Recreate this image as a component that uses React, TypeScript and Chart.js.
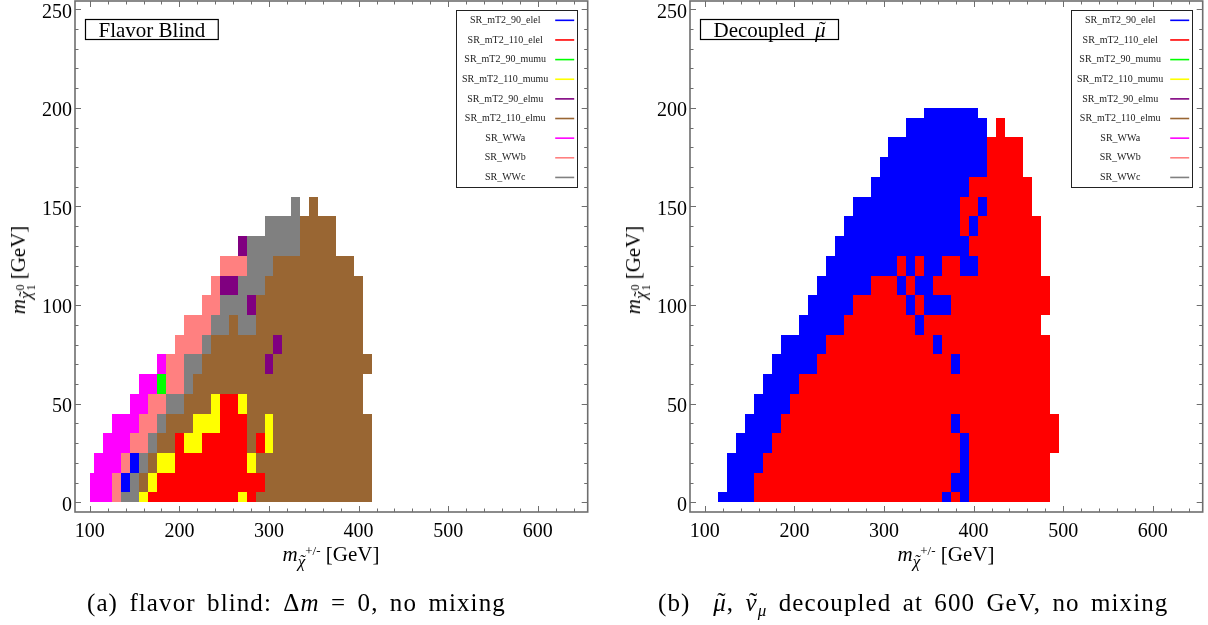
import React, { useEffect, useRef } from "react";
import { Chart, registerables } from "chart.js";

Chart.register(...registerables);

const SERIF = "'Liberation Serif', 'Times New Roman', Times, serif";

// ---------------- data ----------------
const SIGNAL_REGIONS = [
  "SR_mT2_90_elel",
  "SR_mT2_110_elel",
  "SR_mT2_90_mumu",
  "SR_mT2_110_mumu",
  "SR_mT2_90_elmu",
  "SR_mT2_110_elmu",
  "SR_WWa",
  "SR_WWb",
  "SR_WWc",
];
const SR_COLORS = ["#0000ff", "#ff0000", "#00ff00", "#ffff00", "#800080", "#996633", "#ff00ff", "#ff8080", "#808080"];

const X_TICKS = [100, 200, 300, 400, 500, 600];
const Y_TICKS = [0, 50, 100, 150, 200, 250];
const X_MINOR_STEP = 20;
const Y_MINOR_STEP = 10;
const X_RANGE = [83.5, 655.7];
const Y_RANGE = [-4.92, 254.2];

// signal-region indices
const EE90 = 0, EE110 = 1, MM90 = 2, MM110 = 3, EM90 = 4, EM110 = 5, WWA = 6, WWB = 7, WWC = 8;

// scan grid (GeV)
const SCAN_STEP = 10;
const CHARGINO_MIN = 100;
const NEUTRALINO_MIN = 0;
const NEUTRALINO_MAX = 200;

// runs of scan points: [m_chi10, m_chi+- from, m_chi+- to, best SR]
const FLAVOR_BLIND_RUNS = [
  [0, 100, 120, WWA], [0, 130, 130, WWB], [0, 140, 150, WWC], [0, 160, 160, MM110], [0, 170, 260, EE110], [0, 270, 270, MM110], [0, 280, 280, EE110], [0, 290, 410, EM110],
  [10, 100, 120, WWA], [10, 130, 130, WWB], [10, 140, 140, EE90], [10, 150, 150, WWC], [10, 160, 160, EM110], [10, 170, 170, MM110], [10, 180, 290, EE110], [10, 300, 410, EM110],
  [20, 110, 130, WWA], [20, 140, 140, WWB], [20, 150, 150, EE90], [20, 160, 160, WWC], [20, 170, 170, EM110], [20, 180, 190, MM110], [20, 200, 270, EE110], [20, 280, 280, MM110], [20, 290, 410, EM110],
  [30, 120, 140, WWA], [30, 150, 160, WWB], [30, 170, 170, WWC], [30, 180, 190, EM110], [30, 200, 200, EE110], [30, 210, 220, MM110], [30, 230, 270, EE110], [30, 280, 280, EM110], [30, 290, 290, EE110], [30, 300, 300, MM110], [30, 310, 410, EM110],
  [40, 130, 150, WWA], [40, 160, 170, WWB], [40, 180, 180, WWC], [40, 190, 210, EM110], [40, 220, 240, MM110], [40, 250, 270, EE110], [40, 280, 290, EM110], [40, 300, 300, MM110], [40, 310, 410, EM110],
  [50, 150, 160, WWA], [50, 170, 180, WWB], [50, 190, 200, WWC], [50, 210, 230, EM110], [50, 240, 240, MM110], [50, 250, 260, EE110], [50, 270, 270, MM110], [50, 280, 400, EM110],
  [60, 160, 170, WWA], [60, 180, 180, MM90], [60, 190, 200, WWB], [60, 210, 210, WWC], [60, 220, 400, EM110],
  [70, 180, 180, WWA], [70, 190, 200, WWB], [70, 210, 220, WWC], [70, 230, 290, EM110], [70, 300, 300, EM90], [70, 310, 410, EM110],
  [80, 200, 220, WWB], [80, 230, 230, WWC], [80, 240, 300, EM110], [80, 310, 310, EM90], [80, 320, 400, EM110],
  [90, 210, 230, WWB], [90, 240, 250, WWC], [90, 260, 260, EM110], [90, 270, 280, WWC], [90, 290, 400, EM110],
  [100, 230, 240, WWB], [100, 250, 270, WWC], [100, 280, 280, EM90], [100, 290, 400, EM110],
  [110, 240, 240, WWB], [110, 250, 260, EM90], [110, 270, 290, WWC], [110, 300, 400, EM110],
  [120, 250, 270, WWB], [120, 280, 300, WWC], [120, 310, 390, EM110],
  [130, 270, 270, EM90], [130, 280, 330, WWC], [130, 340, 370, EM110],
  [140, 300, 330, WWC], [140, 340, 370, EM110],
  [150, 330, 330, WWC], [150, 350, 350, EM110],
];

const DECOUPLED_RUNS = [
  [0, 120, 150, EE90], [0, 160, 360, EE110], [0, 370, 370, EE90], [0, 380, 380, EE110], [0, 390, 390, EE90], [0, 400, 480, EE110],
  [10, 130, 150, EE90], [10, 160, 370, EE110], [10, 380, 390, EE90], [10, 400, 480, EE110],
  [20, 130, 160, EE90], [20, 170, 380, EE110], [20, 390, 390, EE90], [20, 400, 480, EE110],
  [30, 140, 170, EE90], [30, 180, 380, EE110], [30, 390, 390, EE90], [30, 400, 490, EE110],
  [40, 150, 180, EE90], [40, 190, 370, EE110], [40, 380, 380, EE90], [40, 390, 490, EE110],
  [50, 160, 190, EE90], [50, 200, 480, EE110],
  [60, 170, 200, EE90], [60, 210, 480, EE110],
  [70, 180, 220, EE90], [70, 230, 370, EE110], [70, 380, 380, EE90], [70, 390, 480, EE110],
  [80, 190, 230, EE90], [80, 240, 350, EE110], [80, 360, 360, EE90], [80, 370, 480, EE110],
  [90, 210, 250, EE90], [90, 260, 330, EE110], [90, 340, 340, EE90], [90, 350, 470, EE110],
  [100, 220, 260, EE90], [100, 270, 320, EE110], [100, 330, 330, EE90], [100, 340, 340, EE110], [100, 350, 370, EE90], [100, 380, 480, EE110],
  [110, 230, 280, EE90], [110, 290, 310, EE110], [110, 320, 320, EE90], [110, 330, 330, EE110], [110, 340, 350, EE90], [110, 360, 480, EE110],
  [120, 240, 310, EE90], [120, 320, 320, EE110], [120, 330, 330, EE90], [120, 340, 340, EE110], [120, 350, 360, EE90], [120, 370, 380, EE110], [120, 390, 400, EE90], [120, 410, 470, EE110],
  [130, 250, 390, EE90], [130, 400, 470, EE110],
  [140, 260, 380, EE90], [140, 390, 390, EE110], [140, 400, 400, EE90], [140, 410, 470, EE110],
  [150, 270, 380, EE90], [150, 390, 400, EE110], [150, 410, 410, EE90], [150, 420, 460, EE110],
  [160, 290, 390, EE90], [160, 400, 460, EE110],
  [170, 300, 410, EE90], [170, 420, 450, EE110],
  [180, 310, 410, EE90], [180, 420, 450, EE110],
  [190, 330, 410, EE90], [190, 430, 430, EE110],
  [200, 350, 400, EE90],
];

// title parts: [text, italic, tilde accent]
const TITLE_A: [string, boolean, boolean][] = [["Flavor Blind", false, false]];
const TITLE_B: [string, boolean, boolean][] = [["Decoupled  ", false, false], ["\u03bc", true, true]];

// ---------------- layout ----------------
const W = 1208, H = 625, HALF = 604;
const FRAME_COLOR = "#6e6e6e";

// ---------------- plugins ----------------
const cellsPlugin = {
  id: "cells",
  beforeDatasetsDraw(chart: any) {
    const { ctx, chartArea: a, scales } = chart;
    const xs = scales.x, ys = scales.y;
    ctx.save();
    ctx.beginPath();
    ctx.rect(a.left, a.top, a.right - a.left, a.bottom - a.top);
    ctx.clip();
    chart.data.datasets.forEach((ds: any) => {
      ctx.fillStyle = ds.backgroundColor;
      ds.data.forEach((p: any) => {
        const x0 = Math.round(xs.getPixelForValue(Math.max(p.x - SCAN_STEP / 2, CHARGINO_MIN)));
        const x1 = Math.round(xs.getPixelForValue(p.x + SCAN_STEP / 2));
        const y0 = Math.round(ys.getPixelForValue(Math.max(p.y - SCAN_STEP / 2, NEUTRALINO_MIN)));
        const y1 = Math.round(ys.getPixelForValue(Math.min(p.y + SCAN_STEP / 2, NEUTRALINO_MAX)));
        ctx.fillRect(x0, y1, x1 - x0, y0 - y1);
      });
    });
    ctx.restore();
  },
};

const framePlugin = {
  id: "frameTicks",
  afterDatasetsDraw(chart: any) {
    const { ctx, chartArea: a, scales } = chart;
    const xs = scales.x, ys = scales.y;
    ctx.save();
    ctx.strokeStyle = FRAME_COLOR;
    ctx.lineWidth = 1;
    ctx.beginPath();
    for (let v = X_TICKS[0]; v <= xs.max; v += X_MINOR_STEP) {
      const len = X_TICKS.includes(v) ? 6 : 3.5;
      const px = Math.round(xs.getPixelForValue(v)) + 0.5;
      ctx.moveTo(px, a.bottom);
      ctx.lineTo(px, a.bottom - len);
      ctx.moveTo(px, a.top);
      ctx.lineTo(px, a.top + len);
    }
    for (let v = Y_TICKS[0]; v <= ys.max; v += Y_MINOR_STEP) {
      const len = Y_TICKS.includes(v) ? 6 : 3.5;
      const py = Math.round(ys.getPixelForValue(v)) + 0.5;
      ctx.moveTo(a.left, py);
      ctx.lineTo(a.left + len, py);
      ctx.moveTo(a.right, py);
      ctx.lineTo(a.right - len, py);
    }
    ctx.stroke();
    ctx.lineWidth = 1.6;
    ctx.strokeRect(a.left, a.top, a.right - a.left, a.bottom - a.top);
    ctx.restore();
  },
};

const legendPlugin = {
  id: "srLegend",
  afterDraw(chart: any) {
    const { ctx, chartArea: a } = chart;
    const right = a.right - 10.5;
    const left = right - 121;
    const top = a.top + 8.5;
    const rowH = 19.64;
    const bottom = top + rowH * SIGNAL_REGIONS.length;
    ctx.save();
    ctx.fillStyle = "#fff";
    ctx.fillRect(left, top, right - left, bottom - top);
    ctx.strokeStyle = "#222";
    ctx.lineWidth = 1;
    ctx.strokeRect(Math.round(left) + 0.5, Math.round(top) + 0.5, Math.round(right - left), Math.round(bottom - top));
    ctx.font = `10px ${SERIF}`;
    ctx.textAlign = "center";
    ctx.textBaseline = "middle";
    SIGNAL_REGIONS.forEach((name, i) => {
      const cy = top + rowH * (i + 0.5) + 1;
      ctx.fillStyle = "#222";
      ctx.fillText(name, left + 49, cy);
      ctx.strokeStyle = SR_COLORS[i];
      ctx.lineWidth = 1.6;
      ctx.beginPath();
      ctx.moveTo(right - 22, cy);
      ctx.lineTo(right - 3, cy);
      ctx.stroke();
    });
    ctx.restore();
  },
};

function makeTitlePlugin(parts: [string, boolean, boolean][]) {
  return {
    id: "panelTitle",
    afterDraw(chart: any) {
      const { ctx, chartArea: a } = chart;
      const size = 21;
      const fontOf = (it: boolean) => `${it ? "italic " : ""}${size}px ${SERIF}`;
      let total = 0;
      const widths = parts.map(([t, it]) => {
        ctx.font = fontOf(it);
        const w = ctx.measureText(t).width;
        total += w;
        return w;
      });
      const pad = 13;
      const left = a.left + 10.5;
      const top = a.top + 18.5;
      const boxW = total + 2 * pad;
      const boxH = 20;
      const base = top + boxH - 2.6;
      ctx.save();
      ctx.fillStyle = "#fff";
      ctx.fillRect(left, top, boxW, boxH);
      ctx.strokeStyle = "#000";
      ctx.lineWidth = 1.2;
      ctx.strokeRect(left, top, boxW, boxH);
      ctx.fillStyle = "#000";
      ctx.textBaseline = "alphabetic";
      ctx.textAlign = "left";
      let x = left + pad;
      parts.forEach(([t, it, tilde], i) => {
        ctx.font = fontOf(it);
        ctx.fillText(t, x, base);
        if (tilde) {
          ctx.font = fontOf(false);
          const tw = ctx.measureText("\u02dc").width;
          ctx.fillText("\u02dc", x + widths[i] / 2 - tw / 2 + 2, base - 1);
        }
        x += widths[i];
      });
      ctx.restore();
    },
  };
}

function makeChart(canvas: HTMLCanvasElement, runs: number[][], title: [string, boolean, boolean][], yAxisWidth: number, padRight: number) {
  const datasets = SIGNAL_REGIONS.map((name, sr) => {
    const data: { x: number; y: number }[] = [];
    runs.filter((r) => r[3] === sr).forEach(([mn, c0, c1]) => {
      for (let c = c0; c <= c1; c += SCAN_STEP) data.push({ x: c, y: mn });
    });
    return {
      label: name,
      data,
      backgroundColor: SR_COLORS[sr],
      borderColor: SR_COLORS[sr],
      pointRadius: 0,
      pointHoverRadius: 0,
      showLine: false,
    };
  });
  const tickFont = { family: SERIF, size: 20 };
  return new Chart(canvas, {
    type: "scatter",
    data: { datasets },
    options: {
      animation: false,
      responsive: false,
      events: [],
      layout: { padding: { left: 0, right: padRight, top: 1, bottom: 0 } },
      plugins: { legend: { display: false }, tooltip: { enabled: false }, title: { display: false } },
      scales: {
        x: {
          type: "linear",
          min: X_RANGE[0],
          max: X_RANGE[1],
          afterBuildTicks: (s: any) => {
            s.ticks = X_TICKS.map((v) => ({ value: v }));
          },
          afterFit: (s: any) => {
            s.height = 113;
            s.paddingLeft = 0;
            s.paddingRight = 0;
            s.paddingTop = 0;
            s.paddingBottom = 0;
          },
          ticks: { font: tickFont, color: "#000", padding: 8, maxRotation: 0, autoSkip: false },
          grid: { display: false, drawTicks: false, tickLength: 0 },
          border: { display: false },
        },
        y: {
          type: "linear",
          min: Y_RANGE[0],
          max: Y_RANGE[1],
          afterBuildTicks: (s: any) => {
            s.ticks = Y_TICKS.map((v) => ({ value: v }));
          },
          afterFit: (s: any) => {
            s.width = yAxisWidth;
            s.paddingLeft = 0;
            s.paddingRight = 0;
            s.paddingTop = 0;
            s.paddingBottom = 0;
          },
          ticks: { font: tickFont, color: "#000", padding: 3, labelOffset: 3, autoSkip: false },
          grid: { display: false, drawTicks: false, tickLength: 0 },
          border: { display: false },
        },
      },
    },
    plugins: [cellsPlugin, framePlugin, legendPlugin, makeTitlePlugin(title)],
  } as any);
}

// ---------------- HTML text ----------------
function Tilde({ children, shift = 1 }: { children: React.ReactNode; shift?: number }) {
  return (
    <span style={{ position: "relative", display: "inline-block" }}>
      {children}
      <span style={{ position: "absolute", left: shift, right: -shift, top: -1, textAlign: "center", fontStyle: "normal" }}>{"\u02dc"}</span>
    </span>
  );
}

function XTitle({ cx }: { cx: number }) {
  return (
    <div style={{ position: "absolute", left: cx, top: 542, transform: "translateX(-50%)", whiteSpace: "nowrap", fontSize: 21, lineHeight: "24px", color: "#000" }}>
      <i>m</i>
      <span style={{ position: "relative", top: 6, fontSize: 17 }}>
        <Tilde shift={1.5}>
          <i>{"\u03c7"}</i>
        </Tilde>
      </span>
      <span style={{ position: "relative", top: -6, fontSize: 13 }}>+/-</span>
      <span> [GeV]</span>
    </div>
  );
}

function YTitle({ cx, cy }: { cx: number; cy: number }) {
  return (
    <div style={{ position: "absolute", left: cx, top: cy, transform: "translate(-50%, -50%) rotate(-90deg)", whiteSpace: "nowrap", fontSize: 21, lineHeight: "24px", color: "#000" }}>
      <i>m</i>
      <span style={{ position: "relative", top: 6, fontSize: 17 }}>
        <Tilde shift={1.5}>
          <i>{"\u03c7"}</i>
        </Tilde>
      </span>
      <span style={{ display: "inline-flex", flexDirection: "column", fontSize: 12, lineHeight: "11px", position: "relative", top: -1, marginLeft: 1 }}>
        <span>0</span>
        <span>1</span>
      </span>
      <span> [GeV]</span>
    </div>
  );
}

const captionStyle: React.CSSProperties = {
  position: "absolute",
  top: 589,
  whiteSpace: "nowrap",
  fontSize: 25,
  lineHeight: "28px",
  letterSpacing: 1.1,
  wordSpacing: 4,
  color: "#000",
};

export default function App() {
  const leftRef = useRef<HTMLCanvasElement>(null);
  const rightRef = useRef<HTMLCanvasElement>(null);

  useEffect(() => {
    const a = makeChart(leftRef.current!, FLAVOR_BLIND_RUNS, TITLE_A, 75, HALF - 587.7);
    const b = makeChart(rightRef.current!, DECOUPLED_RUNS, TITLE_B, 690 - HALF, HALF - (1202.7 - HALF));
    return () => {
      a.destroy();
      b.destroy();
    };
  }, []);

  return (
    <div style={{ position: "absolute", left: 0, top: 0, width: W, height: H, background: "#fff", overflow: "hidden", fontFamily: SERIF }}>
      <canvas ref={leftRef} width={HALF} height={H} style={{ position: "absolute", left: 0, top: 0, width: HALF, height: H }} />
      <canvas ref={rightRef} width={HALF} height={H} style={{ position: "absolute", left: HALF, top: 0, width: HALF, height: H }} />
      <XTitle cx={331} />
      <XTitle cx={946} />
      <YTitle cx={22} cy={270} />
      <YTitle cx={637} cy={270} />
      <div style={{ ...captionStyle, left: 87 }}>
        (a) flavor blind: {"\u0394"}
        <i>m</i> = 0, no mixing
      </div>
      <div style={{ ...captionStyle, left: 658 }}>
        (b){"\u00a0\u00a0"}
        <Tilde shift={2}>
          <i>{"\u03bc"}</i>
        </Tilde>
        ,{" "}
        <Tilde shift={2}>
          <i>{"\u03bd"}</i>
        </Tilde>
        <span style={{ position: "relative", top: 5, fontSize: 17 }}>
          <i>{"\u03bc"}</i>
        </span>{" "}
        decoupled at 600 GeV, no mixing
      </div>
    </div>
  );
}
